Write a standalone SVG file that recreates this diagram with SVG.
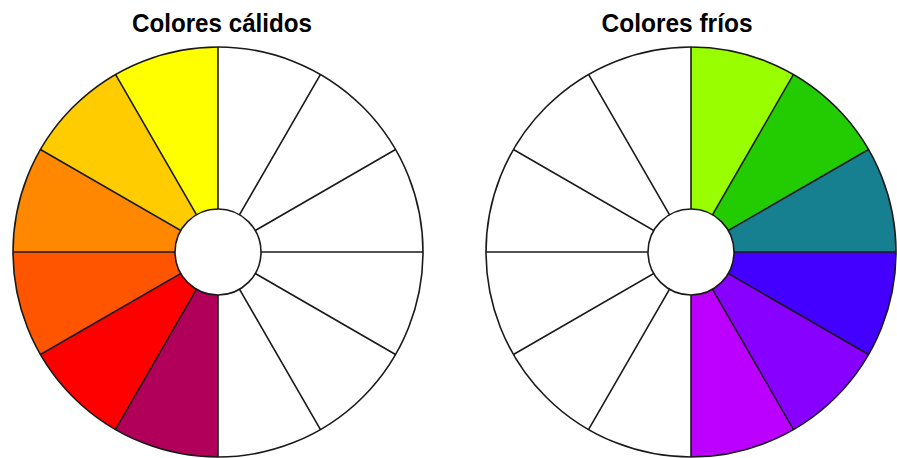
<svg xmlns="http://www.w3.org/2000/svg" xmlns:xlink="http://www.w3.org/1999/xlink" width="897" height="458" viewBox="0 0 897 458">
<style>
.t{font-family:"Liberation Sans",Arial,sans-serif;font-weight:bold;font-size:25px;fill:#000;text-anchor:middle}
.ln{stroke:#1a1a1a;stroke-width:1.6;fill:none}
</style>
<defs>
<g id="lines" class="ln">
<path d="M0,-205V205M-205,0H205M102.5,-177.54L-102.5,177.54M177.54,-102.5L-177.54,102.5M177.54,102.5L-177.54,-102.5M102.5,177.54L-102.5,-177.54"/>
<circle r="205"/>
<circle r="43" fill="#fff"/>
</g>
</defs>
<rect width="897" height="458" fill="#fff"/>
<text class="t" x="222" y="32" textLength="180" lengthAdjust="spacingAndGlyphs">Colores cálidos</text>
<text class="t" x="677" y="32" textLength="151" lengthAdjust="spacingAndGlyphs">Colores fríos</text>
<g id="warm" transform="translate(218,252)">
<circle r="205" fill="#fff"/>
<path fill="#FFFF00" d="M0,0L-102.5,-177.54A205,205 0 0 1 0,-205Z"/>
<path fill="#FFCC00" d="M0,0L-177.54,-102.5A205,205 0 0 1 -102.5,-177.54Z"/>
<path fill="#FF8800" d="M0,0L-205,0A205,205 0 0 1 -177.54,-102.5Z"/>
<path fill="#FF5500" d="M0,0L-177.54,102.5A205,205 0 0 1 -205,0Z"/>
<path fill="#FF0000" d="M0,0L-102.5,177.54A205,205 0 0 1 -177.54,102.5Z"/>
<path fill="#B0005A" d="M0,0L0,205A205,205 0 0 1 -102.5,177.54Z"/>
<use xlink:href="#lines"/>
</g>
<g id="cool" transform="translate(691,252)">
<circle r="205" fill="#fff"/>
<path fill="#99FF00" d="M0,0L0,-205A205,205 0 0 1 102.5,-177.54Z"/>
<path fill="#22CC00" d="M0,0L102.5,-177.54A205,205 0 0 1 177.54,-102.5Z"/>
<path fill="#178090" d="M0,0L177.54,-102.5A205,205 0 0 1 205,0Z"/>
<path fill="#4400FF" d="M0,0L205,0A205,205 0 0 1 177.54,102.5Z"/>
<path fill="#8800FF" d="M0,0L177.54,102.5A205,205 0 0 1 102.5,177.54Z"/>
<path fill="#BB00FF" d="M0,0L102.5,177.54A205,205 0 0 1 0,205Z"/>
<use xlink:href="#lines"/>
</g>
</svg>
